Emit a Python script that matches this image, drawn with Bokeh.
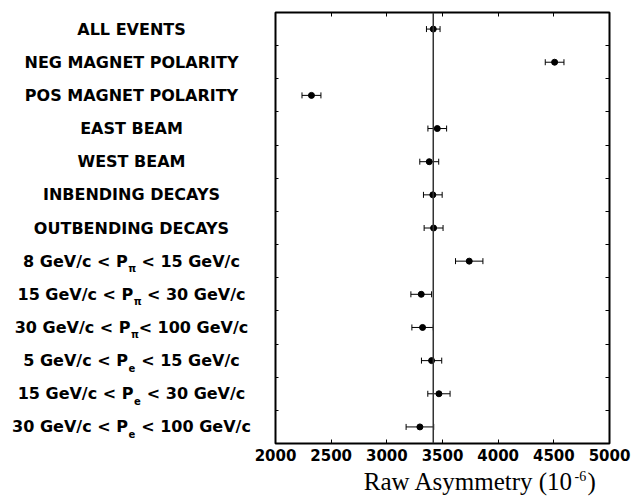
from bokeh.plotting import figure
from bokeh.layouts import row, column
from bokeh.models import (Range1d, FixedTicker, LinearAxis, Span, Whisker,
                          TeeHead, ColumnDataSource, CustomJSTickFormatter)
from bokeh.core.properties import value
from bokeh.embed import file_html
from bokeh.resources import INLINE

# ---------------- data ----------------
plain_labels = ["ALL EVENTS", "NEG MAGNET POLARITY", "POS MAGNET POLARITY",
                "EAST BEAM", "WEST BEAM", "INBENDING DECAYS", "OUTBENDING DECAYS"]
momentum_prefix = ["8 GeV/c < P", "15 GeV/c < P", "30 GeV/c < P",
                   "5 GeV/c < P", "15 GeV/c < P", "30 GeV/c < P"]
momentum_sub = ["π", "π", "π", "e", "e", "e"]
momentum_suffix = [" < 15 GeV/c", " < 30 GeV/c", "< 100 GeV/c",
                   " < 15 GeV/c", " < 30 GeV/c", " < 100 GeV/c"]
asymmetry = [3417, 4507, 2323, 3453, 3381, 3413, 3420,
             3740, 3309, 3321, 3402, 3468, 3297]
errors = [61, 84, 85, 84, 85, 84, 85, 123, 93, 96, 91, 100, 124]
reference_value = 3417
x_ticks = [2000, 2500, 3000, 3500, 4000, 4500, 5000]
x_title = "Raw Asymmetry (10"
x_title_sup = "-6"

# ---------------- layout constants (page px) ----------------
PAGE_W, PAGE_H = 632, 500
FRAME_L, FRAME_R, FRAME_T, FRAME_B = 275, 609, 12, 443
LEFT_W = 252
MAIN_W = PAGE_W - LEFT_W
TOP_H = 466
BOT_H = PAGE_H - TOP_H
N = len(asymmetry)
X0, X1 = 2000, 5000
FONT = "DejaVu Sans"
MAIN_PX, SUB_PX = 16, 10

# approximate DejaVu Sans Bold advance widths (em), used only to centre labels
EM = {" ": 0.348, "G": 0.821, "e": 0.678, "V": 0.774, "/": 0.365, "c": 0.593,
      "<": 0.838, "P": 0.733, "π": 0.71}
def text_w(s, px):
    return sum(EM.get(ch, 0.696) for ch in s) * px

rows = list(range(1, N + 1))
src = ColumnDataSource(dict(
    x=asymmetry, y=rows,
    lo=[a - e for a, e in zip(asymmetry, errors)],
    hi=[a + e for a, e in zip(asymmetry, errors)],
))
y_range = Range1d(N + 0.5, 0.5)

# ---------------- main plot ----------------
p = figure(width=MAIN_W, height=TOP_H, x_range=Range1d(X0, X1), y_range=y_range,
           output_backend="svg", toolbar_location=None,
           min_border_left=FRAME_L - LEFT_W, min_border_right=PAGE_W - FRAME_R,
           min_border_top=FRAME_T, min_border_bottom=TOP_H - FRAME_B,
           x_axis_location=None, y_axis_location=None)
p.grid.visible = False
p.outline_line_color = "black"
p.outline_line_width = 2
p.background_fill_color = "white"
p.border_fill_color = "white"

def style_axis(ax, ticks, tick_len, labels=False):
    ax.ticker = FixedTicker(ticks=ticks)
    ax.axis_line_color = None
    ax.major_tick_in = tick_len
    ax.major_tick_out = 0
    ax.major_tick_line_color = "black"
    ax.major_tick_line_width = 1
    ax.minor_tick_line_color = None
    if labels:
        ax.major_label_text_font = FONT
        ax.major_label_text_font_style = "bold"
        ax.major_label_text_font_size = "15px"
        ax.major_label_text_color = "black"
        ax.major_label_standoff = 5
    else:
        ax.formatter = CustomJSTickFormatter(code="return ''")
        ax.major_label_text_font_size = "1px"
        ax.major_label_standoff = 0

y_bounds = [r + 0.5 for r in rows[:-1]]
bx = LinearAxis(); style_axis(bx, x_ticks, 4, labels=True); p.add_layout(bx, "below")
tx = LinearAxis(); style_axis(tx, x_ticks, 4); p.add_layout(tx, "above")
ly = LinearAxis(); style_axis(ly, y_bounds, 3); p.add_layout(ly, "left")
ry = LinearAxis(); style_axis(ry, y_bounds, 4); p.add_layout(ry, "right")

p.add_layout(Span(location=reference_value, dimension="height",
                  line_color="#333333", line_width=1.5))
p.add_layout(Whisker(source=src, base="y", lower="lo", upper="hi", dimension="width",
                     line_color="black", line_width=1,
                     lower_head=TeeHead(size=6, line_color="black", line_width=1),
                     upper_head=TeeHead(size=6, line_color="black", line_width=1)))
p.scatter("x", "y", source=src, size=6, color="black")

# ---------------- row-label panel ----------------
lp = figure(width=LEFT_W, height=TOP_H, x_range=Range1d(0, LEFT_W), y_range=y_range,
            output_backend="svg", toolbar_location=None,
            min_border_left=0, min_border_right=0,
            min_border_top=FRAME_T, min_border_bottom=TOP_H - FRAME_B,
            x_axis_location=None, y_axis_location=None)
lp.grid.visible = False
lp.outline_line_color = None
lp.border_fill_color = "white"

LABEL_CX = 131
txt = dict(text_font=value(FONT), text_font_style="bold", text_color="black",
           text_baseline="middle")
lp.text(x=[LABEL_CX] * len(plain_labels), y=rows[:len(plain_labels)],
        text=plain_labels, text_align="center", text_font_size=f"{MAIN_PX}px", **txt)

mrows = rows[len(plain_labels):]
junction, suffix_x, suffix_txt = [], [], []
for pre, sub, suf in zip(momentum_prefix, momentum_sub, momentum_suffix):
    wp, ws, wf = text_w(pre, MAIN_PX), text_w(sub, SUB_PX) + 1, text_w(suf, MAIN_PX)
    j = LABEL_CX - (wp + ws + wf) / 2 + wp
    lead = text_w(suf[:len(suf) - len(suf.lstrip())], MAIN_PX)  # svg drops leading blanks
    junction.append(j)
    suffix_x.append(j + ws + lead)
    suffix_txt.append(suf.lstrip())
lp.text(x=junction, y=mrows, text=momentum_prefix, text_align="right",
        text_font_size=f"{MAIN_PX}px", **txt)
lp.text(x=[j + 0.5 for j in junction], y=[r + 0.22 for r in mrows], text=momentum_sub,
        text_align="left", text_font_size=f"{SUB_PX}px", **txt)
lp.text(x=suffix_x, y=mrows, text=suffix_txt, text_align="left",
        text_font_size=f"{MAIN_PX}px", **txt)

# ---------------- axis-title panel ----------------
bp = figure(width=PAGE_W, height=BOT_H, x_range=Range1d(0, PAGE_W), y_range=Range1d(BOT_H, 0),
            output_backend="svg", toolbar_location=None,
            min_border_left=0, min_border_right=0, min_border_top=0, min_border_bottom=0,
            x_axis_location=None, y_axis_location=None)
bp.grid.visible = False
bp.outline_line_color = None
bp.border_fill_color = "white"
bp.background_fill_color = "white"

TJ = 573                         # end of "(10"
MID = 489 - 8.4 - TOP_H          # vertical middle of the title line
SUP_MID = 480 - 4.7 - TOP_H      # vertical middle of the superscript
serif = dict(text_font=value("Liberation Serif"), text_color="black",
             text_baseline="middle")
bp.text(x=[TJ], y=[MID], text=[x_title], text_align="right",
        text_font_size="25px", **serif)
bp.text(x=[TJ + 1], y=[SUP_MID], text=[x_title_sup], text_align="left",
        text_font_size="14px", **serif)
bp.text(x=[TJ + 14], y=[MID], text=[")"], text_align="left",
        text_font_size="25px", **serif)

layout = column(row(lp, p), bp)
open("out.html", "w").write(file_html(layout, INLINE))
